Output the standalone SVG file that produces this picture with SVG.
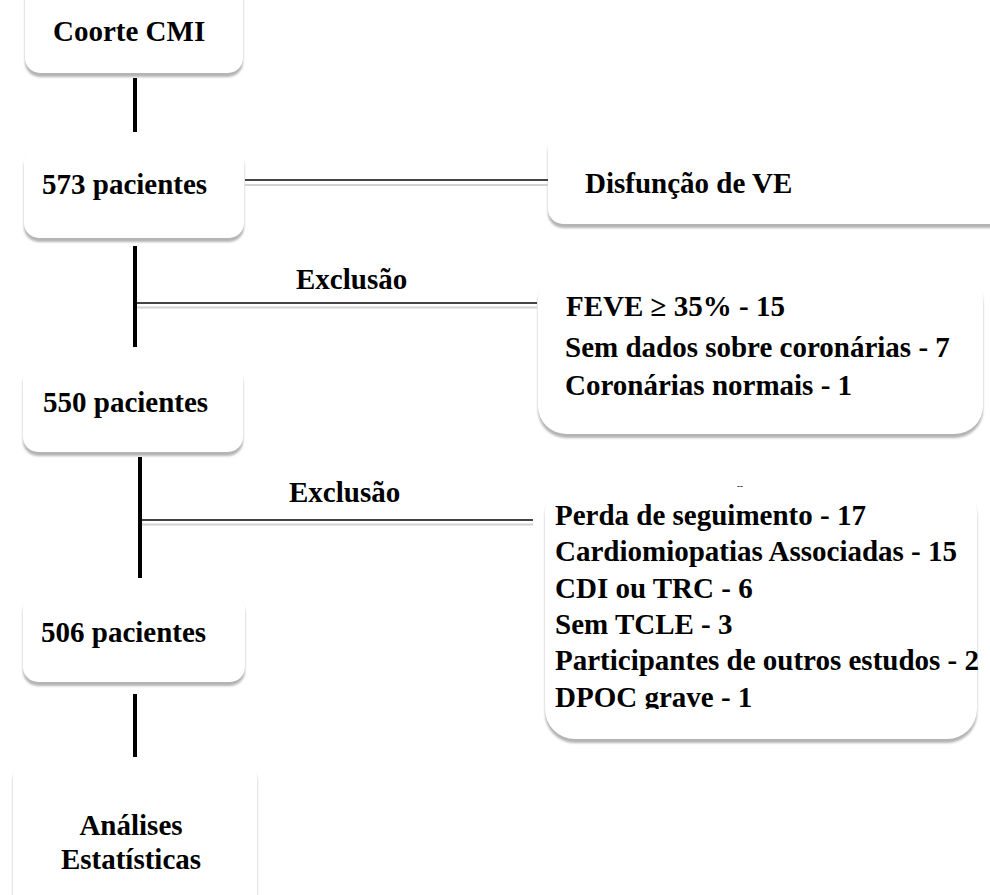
<svg xmlns="http://www.w3.org/2000/svg" width="990" height="895" viewBox="0 0 990 895">
<style>
.t{font-family:"Liberation Serif","Times New Roman",serif;font-weight:bold;font-size:29px;fill:#000}
.box{fill:#fff}
.sh{fill:#b4b4b4;filter:url(#blur)}
.v{stroke:#000;stroke-width:4;fill:none}
.d1{stroke:#444;stroke-width:2;fill:none}
.d2{stroke:#d2d2d2;stroke-width:2;fill:none}
</style>
<defs>
<filter id="blur" x="-5%" y="-10%" width="110%" height="130%"><feGaussianBlur stdDeviation="1.1"/></filter>
<clipPath id="clipList"><rect x="540" y="480" width="450" height="229"/></clipPath>
</defs>
<rect width="990" height="895" fill="#fff"/>
<g id="n-coorte">
<rect class="sh" x="25" y="-16" width="218" height="93" rx="15"/>
<rect class="box" x="25" y="-20" width="218" height="93" rx="15"/>
<text class="t" x="53" y="41">Coorte CMI</text>
</g>
<g id="n-573">
<rect class="sh" x="24" y="152" width="220" height="90" rx="15"/>
<rect class="box" x="24" y="148" width="220" height="90" rx="15"/>
<text class="t" x="42" y="194">573 pacientes</text>
</g>
<g id="n-disfuncao">
<rect class="sh" x="548" y="138" width="460" height="90" rx="15"/>
<rect class="box" x="548" y="134" width="460" height="90" rx="15"/>
<text class="t" x="585" y="193">Disfunção de VE</text>
</g>
<g id="n-excl1">
<rect class="sh" x="538" y="276" width="445" height="162" rx="28"/>
<rect class="box" x="538" y="272" width="445" height="162" rx="28"/>
<text class="t" x="566" y="316">FEVE ≥ 35% - 15</text>
<text class="t" x="565" y="357">Sem dados sobre coronárias - 7</text>
<text class="t" x="565" y="395">Coronárias normais - 1</text>
</g>
<g id="n-550">
<rect class="sh" x="23" y="369" width="220" height="87" rx="15"/>
<rect class="box" x="23" y="365" width="220" height="87" rx="15"/>
<text class="t" x="43" y="412">550 pacientes</text>
</g>
<g id="n-excl2">
<rect class="sh" x="545" y="487" width="432" height="256" rx="30"/>
<rect class="box" x="545" y="483" width="432" height="256" rx="30"/>
<text x="737" y="489" font-family="Liberation Sans, Arial, sans-serif" font-size="9" fill="#000">--</text>
<g clip-path="url(#clipList)">
<text class="t" x="555" y="525">Perda de seguimento - 17</text>
<text class="t" x="555" y="561">Cardiomiopatias Associadas - 15</text>
<text class="t" x="555" y="598">CDI ou TRC - 6</text>
<text class="t" x="555" y="634">Sem TCLE - 3</text>
<text class="t" x="555" y="670">Participantes de outros estudos - 2</text>
<text class="t" x="555" y="707">DPOC grave - 1</text>
</g>
</g>
<g id="n-506">
<rect class="sh" x="23" y="598" width="222" height="88" rx="15"/>
<rect class="box" x="23" y="594" width="222" height="88" rx="15"/>
<text class="t" x="41" y="642">506 pacientes</text>
</g>
<g id="n-analises">
<rect class="sh" x="13" y="766" width="244" height="150" rx="15"/>
<rect class="box" x="13" y="762" width="244" height="150" rx="15"/>
<text class="t" x="131" y="835" text-anchor="middle">Análises</text>
<text class="t" x="131" y="869" text-anchor="middle">Estatísticas</text>
</g>
<g id="connectors">
<line class="v" x1="135" y1="78" x2="135" y2="132"/>
<line class="d1" x1="245" y1="180" x2="548" y2="180"/>
<line class="d2" x1="245" y1="185" x2="548" y2="185"/>
<line class="v" x1="135" y1="246" x2="135" y2="347"/>
<line class="d1" x1="137" y1="303" x2="537" y2="303"/>
<line class="d2" x1="137" y1="307.5" x2="537" y2="307.5"/>
<text class="t" x="296" y="289">Exclusão</text>
<line class="v" x1="140" y1="457" x2="140" y2="578"/>
<line class="d1" x1="142" y1="520" x2="533" y2="520"/>
<line class="d2" x1="142" y1="524.5" x2="533" y2="524.5"/>
<text class="t" x="289" y="502">Exclusão</text>
<line class="v" x1="135" y1="694" x2="135" y2="757"/>
</g>
</svg>
